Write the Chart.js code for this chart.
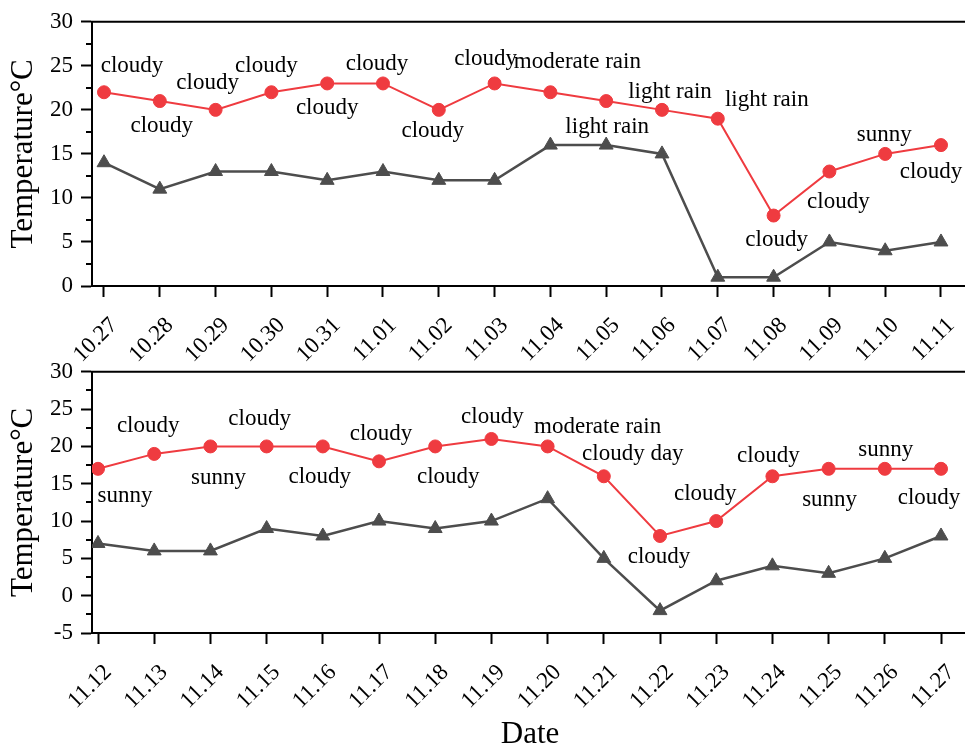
<!DOCTYPE html>
<html>
<head>
<meta charset="utf-8">
<script src="https://cdn.jsdelivr.net/npm/chart.js@4.4.0/dist/chart.umd.min.js"></script>
<style>
  html { overflow:hidden; }
  html, body { margin:0; padding:0; background:#fff; }
  body { width:1000px; height:760px; position:relative; }
  .wrap { position:absolute; left:0; width:970px; }
</style>
</head>
<body>
<div class="wrap" style="top:0; height:365px;"><canvas id="c1"></canvas></div>
<div class="wrap" style="top:350px; height:400px;"><canvas id="c2"></canvas></div>
<script>
// ---------- DATA ----------
const datesTop = ['10.27','10.28','10.29','10.30','10.31','11.01','11.02','11.03','11.04','11.05','11.06','11.07','11.08','11.09','11.10','11.11'];
const highTop  = [22, 21, 20, 22, 23, 23, 20, 23, 22, 21, 20, 19, 8, 13, 15, 16];
const lowTop   = [14, 11, 13, 13, 12, 13, 12, 12, 16, 16, 15, 1, 1, 5, 4, 5];
const weatherTop = ['cloudy','cloudy','cloudy','cloudy','cloudy','cloudy','cloudy','cloudy','moderate rain','light rain','light rain','light rain','cloudy','cloudy','sunny','cloudy'];
const yTicksTop = [0, 5, 10, 15, 20, 25, 30];

const datesBottom = ['11.12','11.13','11.14','11.15','11.16','11.17','11.18','11.19','11.20','11.21','11.22','11.23','11.24','11.25','11.26','11.27'];
const highBottom  = [17, 19, 20, 20, 20, 18, 20, 21, 20, 16, 8, 10, 16, 17, 17, 17];
const lowBottom   = [7, 6, 6, 9, 8, 10, 9, 10, 13, 5, -2, 2, 4, 3, 5, 8];
const weatherBottom = ['sunny','cloudy','sunny','cloudy','cloudy','cloudy','cloudy','cloudy','moderate rain','cloudy day','cloudy','cloudy','cloudy','sunny','sunny','cloudy'];
const yTicksBottom = [-5, 0, 5, 10, 15, 20, 25, 30];

const yTitle = 'Temperature°C';
const xTitle = 'Date';

// ---------- LAYOUT (label placement offsets relative to each point, px) ----------
const labelShiftTop = [[28,-26],[2,25],[-8,-27],[-5,-26],[0,25],[-6,-19],[-6,21],[-9,-24],[27,-30],[1,26],[8,-18],[49,-19],[3,24],[9,30],[-1,-19],[-10,27]];
const labelShiftBottom = [[27,27],[-6,-28],[8,32],[-7,-27],[-3,31],[2,-27],[13,31],[1,-22],[50,-19],[29,-22],[-1,21],[-11,-27],[-4,-20],[1,31],[1,-19],[-12,29]];

const RED = '#ef3b40';
const GRAY = '#4d4d4d';
const FONT = "'Liberation Serif','Times New Roman',serif";

const framePlugin = {
  id: 'frame',
  afterDraw(chart, args, opts) {
    const {ctx, chartArea: a, scales} = chart;
    ctx.save();
    ctx.strokeStyle = '#000';
    ctx.lineWidth = 2;
    ctx.beginPath();
    ctx.moveTo(a.left - 1, a.top);
    ctx.lineTo(a.right, a.top);
    ctx.lineTo(a.right, a.bottom);
    ctx.stroke();
    // minor ticks on y axis
    const y = scales.y;
    const ticks = opts.yTicks;
    ctx.beginPath();
    for (let i = 0; i < ticks.length - 1; i++) {
      const v = (ticks[i] + ticks[i + 1]) / 2;
      const py = Math.round(y.getPixelForValue(v));
      ctx.moveTo(a.left - 6, py);
      ctx.lineTo(a.left, py);
    }
    ctx.stroke();
    ctx.restore();
  }
};

const weatherPlugin = {
  id: 'weather',
  afterDatasetsDraw(chart, args, opts) {
    const {ctx} = chart;
    const meta = chart.getDatasetMeta(0);
    ctx.save();
    ctx.font = '23px ' + FONT;
    ctx.fillStyle = '#000';
    ctx.textAlign = 'center';
    ctx.textBaseline = 'middle';
    meta.data.forEach((pt, i) => {
      const s = opts.shift[i];
      ctx.fillText(opts.texts[i], pt.x + s[0], pt.y + s[1]);
    });
    ctx.restore();
  }
};

function makeChart(id, dates, high, low, weather, yTicks, shift, cfg) {
  const toXY = arr => arr.map((v, i) => ({x: i, y: v}));
  const axisGrid = { display: true, drawOnChartArea: false, drawTicks: true, tickLength: 11, tickWidth: 2, tickColor: '#000' };
  const axisBorder = { display: true, color: '#000', width: 2 };
  return new Chart(document.getElementById(id), {
    type: 'line',
    data: {
      datasets: [
        { data: toXY(high), borderColor: RED, backgroundColor: RED, borderWidth: 2,
          pointStyle: 'circle', pointRadius: 6.5, pointBorderWidth: 1, pointBackgroundColor: RED, pointBorderColor: RED, tension: 0 },
        { data: toXY(low), borderColor: GRAY, backgroundColor: GRAY, borderWidth: 2.5,
          pointStyle: 'triangle', pointRadius: 8, pointBorderWidth: 1, pointBackgroundColor: GRAY, pointBorderColor: GRAY, tension: 0 }
      ]
    },
    options: {
      responsive: true,
      maintainAspectRatio: false,
      animation: false,
      devicePixelRatio: 1,
      layout: { autoPadding: false, padding: { top: cfg.padTop, right: 2, left: 0, bottom: 0 } },
      plugins: {
        legend: { display: false },
        tooltip: { enabled: false },
        frame: { yTicks: yTicks },
        weather: { texts: weather, shift: shift }
      },
      scales: {
        x: {
          type: 'linear',
          min: cfg.xMin, max: cfg.xMax,
          afterBuildTicks: s => { s.ticks = dates.map((d, i) => ({ value: i })); },
          afterFit: s => { s.height = cfg.xHeight; s.paddingLeft = 0; s.paddingRight = 0; },
          grid: axisGrid,
          border: axisBorder,
          ticks: {
            callback: v => dates[v],
            autoSkip: false, maxRotation: 45, minRotation: 45,
            font: { family: FONT, size: 23 }, color: '#000',
            padding: cfg.xTickPad, labelOffset: cfg.xLabelOffset
          },
          title: cfg.xTitle ? { display: true, text: xTitle, color: '#000', font: { family: FONT, size: 31, lineHeight: 1 }, padding: 0 } : { display: false }
        },
        y: {
          min: yTicks[0], max: yTicks[yTicks.length - 1],
          afterBuildTicks: s => { s.ticks = yTicks.map(v => ({ value: v })); },
          afterFit: s => { s.width = 92; },
          grid: axisGrid,
          border: axisBorder,
          ticks: { font: { family: FONT, size: 23 }, color: '#000', padding: 8 },
          title: { display: true, text: yTitle, color: '#000', font: { family: FONT, size: 31, lineHeight: 1.2 }, padding: { top: 5, bottom: 0 } }
        }
      }
    },
    plugins: [framePlugin, weatherPlugin]
  });
}

makeChart('c1', datesTop, highTop, lowTop, weatherTop, yTicksTop, labelShiftTop,
  { padTop: 21, xMin: -0.215, xMax: 15.484, xHeight: 79, xTickPad: 15, xLabelOffset: 10, xTitle: false });
makeChart('c2', datesBottom, highBottom, lowBottom, weatherBottom, yTicksBottom, labelShiftBottom,
  { padTop: 18, xMin: -0.107, xMax: 15.48, xHeight: 117, xTickPad: 15, xLabelOffset: 10, xTitle: true });
</script>
</body>
</html>
